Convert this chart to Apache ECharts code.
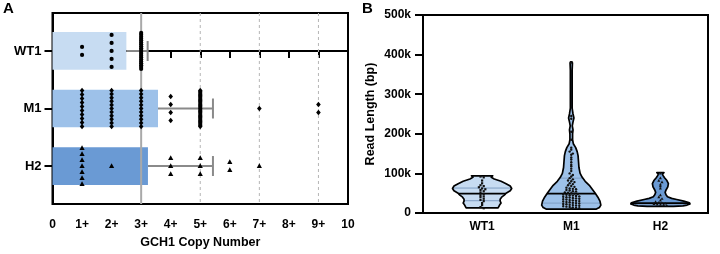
<!DOCTYPE html>
<html><head><meta charset="utf-8">
<script src="https://cdn.jsdelivr.net/npm/echarts@6/dist/echarts.min.js"></script>
<style>html,body{margin:0;padding:0;background:#fff}#c{width:720px;height:254px}</style>
</head><body><div id="c"></div>
<script>
// ---------- Panel A data ----------
const groupsA = ['WT1', 'M1', 'H2'];
const copyTickLabels = ['0','1+','2+','3+','4+','5+','6+','7+','8+','9+','10'];
const meanA = [2.5, 3.57, 3.23];
const sdA = [0.72, 1.86, 2.2];
const countsWT1 = {1: 2, 2: 5, 3: 20};
const countsM1 = {1: 10, 2: 11, 3: 11, 4: 4, 5: 30, 7: 1, 9: 2};
const countsH2 = {1: 7, 2: 1, 4: 3, 5: 3, 6: 2, 7: 1};
const refSolid = [3];
const refDashed = [5, 7, 9];

// ---------- Panel B data ----------
const groupsB = ['WT1', 'M1', 'H2'];
const readsWT1 = [92,90,82,75,70,68,65,62,60,58,55,52,48,45,42,40,36,33,30,25,20,15,12];
const readsM1 = [380,245,238,205,185,165,160,155,150,147,140,135,128,122,118,112,106,100,96,92,
  88,85,82,80,78,75,73,70,68,66,64,62,61,60,58,57,55,54,52,51,50,49,48,47,46,45,44,43,42,41,
  40,39,38,37,36,35,34,33,32,31,30,29,28,27,26,25,24,23,22,21,20,19,18,17,16,15,14,13,12,11];
const readsH2 = [100,88,82,78,72,68,62,45,40,36,32,28,26,25,24,23,22,21,20,19];
// violin density profiles: [read length (k), relative width]
const violinWT1 = [[94,0.36],[90,0.31],[86,0.41],[80,0.64],[74,0.81],[68,0.95],[62,1],[56,0.95],[50,0.81],[45,0.75],[40,0.66],[35,0.61],[30,0.61],[25,0.64],[20,0.59],[13,0.54]];
const violinM1 = [[382,0.02],[379,0.04],[360,0.03],[300,0.03],[265,0.03],[250,0.06],[240,0.09],[230,0.06],[220,0.035],[210,0.06],[200,0.045],[185,0.045],[175,0.07],[165,0.15],[155,0.2],[145,0.23],[130,0.245],[115,0.26],[100,0.3],[90,0.37],[80,0.47],[70,0.61],[60,0.71],[50,0.81],[40,0.9],[30,0.97],[20,1],[14,0.95],[10,0.85]];
const violinH2 = [[102,0.12],[99,0.076],[95,0.086],[89,0.14],[82,0.22],[74,0.27],[66,0.25],[58,0.19],[52,0.16],[46,0.19],[41,0.24],[37,0.38],[34,0.55],[30,0.79],[26,0.98],[23,1],[20,0.9],[18,0.76],[16.5,0.45]];
const medianB = [49, 49, 25];
const q1B = [31, 25, 21];
const q3B = [63, 88, 42];

// ---------- styles ----------
const FONT = 'Liberation Sans, Arial, Helvetica, sans-serif';
const barColors = ['#c7dcf2', '#9dc1e9', '#6a9ad4'];
const violinColors = ['#c7dcf2', '#9dc1e9', '#6a9ad4'];
const BAR_HALF = 0.328;     // in category units (panel A)
const VIOLIN_MAX = 0.332;   // max half-width in x units (panel B)

// build dot data for panel A (stacked columns)
const countsA = [countsWT1, countsM1, countsH2];
const dotsA = [];
countsA.forEach((cnt, gi) => {
  Object.keys(cnt).forEach(k => {
    const n = cnt[k];
    const sp = n > 1 ? Math.min(8, 36 / (n - 1)) : 0;
    for (let j = 0; j < n; j++) dotsA.push([+k, gi, (j - (n - 1) / 2) * sp]);
  });
});

// build beeswarm dot data for panel B
const readsB = [readsWT1, readsM1, readsH2];
const violinsB = [violinWT1, violinM1, violinH2];
const dotsB = [];
readsB.forEach((arr, gi) => {
  const bins = {};
  arr.forEach(v => { const b = Math.floor(v / 6); (bins[b] = bins[b] || []).push(v); });
  Object.keys(bins).forEach(b => {
    const list = bins[b], n = list.length;
    list.forEach((v, j) => dotsB.push([gi + 1 + (j - (n - 1) / 2) * (3.2 / 89), v * 1000, gi]));
  });
});

function widthAt(profile, v) {
  for (let i = 0; i < profile.length - 1; i++) {
    const a = profile[i], b = profile[i + 1];
    if (v <= a[0] && v >= b[0]) return a[1] + (b[1] - a[1]) * (a[0] - v) / (a[0] - b[0]);
  }
  return 0;
}

const chart = echarts.init(document.getElementById('c'), null, {renderer: 'canvas'});
const labelStyle = {color: '#000', fontFamily: FONT, fontWeight: 'bold', fontSize: 12};

const option = {
  animation: false,
  graphic: [
    {type: 'text', left: 3, top: 1, style: {text: 'A', font: 'bold 15px ' + FONT, fill: '#000'}},
    {type: 'text', left: 362, top: 1, style: {text: 'B', font: 'bold 15px ' + FONT, fill: '#000'}}
  ],
  grid: [
    {left: 52.5, right: 372, top: 13, bottom: 45, show: true, borderColor: '#000', borderWidth: 2, containLabel: false},
    {left: 423, right: 12, top: 15, bottom: 41, show: true, borderColor: '#000', borderWidth: 2, containLabel: false}
  ],
  xAxis: [
    {gridIndex: 0, type: 'value', min: 0, max: 10, interval: 1,
     axisLine: {lineStyle: {color: '#000', width: 2}},
     axisTick: {show: true, length: 7, lineStyle: {color: '#000', width: 2}},
     splitLine: {show: false},
     axisLabel: Object.assign({margin: 15, formatter: v => copyTickLabels[v] || ''}, labelStyle),
     name: 'GCH1 Copy Number', nameLocation: 'middle', nameGap: 32,
     nameTextStyle: {color: '#000', fontFamily: FONT, fontWeight: 'bold', fontSize: 12.5}},
    {gridIndex: 1, type: 'value', min: 0.337, max: 3.534,
     axisLine: {lineStyle: {color: '#000', width: 2}},
     axisTick: {show: false},
     splitLine: {show: false},
     axisLabel: Object.assign({margin: 8, customValues: [1, 2, 3], formatter: v => groupsB[Math.round(v) - 1] || ''}, labelStyle)}
  ],
  yAxis: [
    {gridIndex: 0, type: 'value', inverse: true, min: -0.66, max: 2.66,
     axisLine: {lineStyle: {color: '#000', width: 2}},
     axisTick: {show: true, length: 8, customValues: [0, 1, 2], lineStyle: {color: '#000', width: 2}},
     splitLine: {show: false},
     axisLabel: Object.assign({margin: 11, customValues: [0, 1, 2], formatter: v => groupsA[Math.round(v)] || ''}, labelStyle, {fontSize: 13})},
    {gridIndex: 1, type: 'value', min: 0, max: 500000, interval: 100000,
     axisLine: {lineStyle: {color: '#000', width: 2}},
     axisTick: {show: true, length: 8, lineStyle: {color: '#000', width: 2}},
     splitLine: {show: false},
     axisLabel: Object.assign({margin: 12, formatter: v => v === 0 ? '0' : (v / 1000) + 'k'}, labelStyle),
     name: 'Read Length (bp)', nameLocation: 'middle', nameGap: 46, nameRotate: 90,
     nameTextStyle: {color: '#000', fontFamily: FONT, fontWeight: 'bold', fontSize: 12.5}}
  ],
  series: [
    // bars
    {type: 'custom', xAxisIndex: 0, yAxisIndex: 0, z: 2,
     data: groupsA.map((g, i) => [meanA[i], i]),
     renderItem: (params, api) => {
       const i = api.value(1);
       const p0 = api.coord([0, i]), p1 = api.coord([api.value(0), i]);
       const h = api.size([0, BAR_HALF * 2])[1];
       return {type: 'rect', shape: {x: p0[0], y: p0[1] - h / 2, width: p1[0] - p0[0], height: h}, style: {fill: barColors[i]}};
     }},
    // reference lines
    {type: 'custom', xAxisIndex: 0, yAxisIndex: 0, z: 3,
     data: refSolid.map(v => [v, 0, 0]).concat(refDashed.map(v => [v, 0, 1])),
     renderItem: (params, api) => {
       const cs = params.coordSys;
       const x = api.coord([api.value(0), 0])[0];
       const dashed = api.value(2) === 1;
       return {type: 'line', shape: {x1: x, y1: cs.y, x2: x, y2: cs.y + cs.height},
         style: {stroke: dashed ? '#b5b5b5' : '#a9a9a9', lineWidth: dashed ? 1 : 2, lineDash: dashed ? [3, 3] : null}};
     }},
    // error bars
    {type: 'custom', xAxisIndex: 0, yAxisIndex: 0, z: 4,
     data: groupsA.map((g, i) => [meanA[i], i, sdA[i]]),
     renderItem: (params, api) => {
       const i = api.value(1);
       const a = api.coord([api.value(0), i]), b = api.coord([api.value(0) + api.value(2), i]);
       return {type: 'group', children: [
         {type: 'line', shape: {x1: a[0], y1: a[1], x2: b[0], y2: b[1]}, style: {stroke: '#8a8a8a', lineWidth: 2}},
         {type: 'line', shape: {x1: b[0], y1: b[1] - 10, x2: b[0], y2: b[1] + 10}, style: {stroke: '#8a8a8a', lineWidth: 2}}
       ]};
     }},
    // dots panel A
    {type: 'custom', xAxisIndex: 0, yAxisIndex: 0, z: 5,
     data: dotsA,
     renderItem: (params, api) => {
       const p = api.coord([api.value(0), api.value(1)]);
       const x = p[0], y = p[1] + api.value(2), g = api.value(1);
       if (g === 0) return {type: 'circle', shape: {cx: x, cy: y, r: 2.1}, style: {fill: '#000'}};
       if (g === 1) return {type: 'polygon', shape: {points: [[x, y - 2.7], [x + 2.3, y], [x, y + 2.7], [x - 2.3, y]]}, style: {fill: '#000'}};
       return {type: 'polygon', shape: {points: [[x, y - 2.8], [x + 2.6, y + 2], [x - 2.6, y + 2]]}, style: {fill: '#000'}};
     }},
    // violins
    {type: 'custom', xAxisIndex: 1, yAxisIndex: 1, z: 2,
     data: groupsB.map((g, i) => [i + 1, medianB[i] * 1000, i]),
     renderItem: (params, api) => {
       const i = api.value(2), c = i + 1;
       const prof = violinsB[i];
       const left = prof.map(d => api.coord([c - d[1] * VIOLIN_MAX, d[0] * 1000]));
       const right = prof.slice().reverse().map(d => api.coord([c + d[1] * VIOLIN_MAX, d[0] * 1000]));
       const hl = (v, color, w) => {
         const hw = widthAt(prof, v) * VIOLIN_MAX;
         const a = api.coord([c - hw, v * 1000]), b = api.coord([c + hw, v * 1000]);
         return {type: 'line', shape: {x1: a[0], y1: a[1], x2: b[0], y2: b[1]}, style: {stroke: color, lineWidth: w}};
       };
       return {type: 'group', children: [
         {type: 'polygon', shape: {points: left.concat(right)}, style: {fill: violinColors[i], stroke: 'none'}},
         hl(q1B[i], '#7f9ec4', 1), hl(q3B[i], '#7f9ec4', 1), hl(medianB[i], '#000', 1.6),
         {type: 'polygon', shape: {points: left.concat(right)}, style: {fill: 'none', stroke: '#000', lineWidth: 1.7, lineJoin: 'round'}}
       ]};
     }},
    // violin dots
    {type: 'custom', xAxisIndex: 1, yAxisIndex: 1, z: 3,
     data: dotsB,
     renderItem: (params, api) => {
       const p = api.coord([api.value(0), api.value(1)]);
       const x = p[0], y = p[1], g = api.value(2);
       if (g === 0) return {type: 'rect', shape: {x: x - 1.1, y: y - 1.1, width: 2.2, height: 2.2}, style: {fill: '#111'}};
       if (g === 1) return {type: 'circle', shape: {cx: x, cy: y, r: 1.2}, style: {fill: '#111'}};
       return {type: 'polygon', shape: {points: [[x, y - 1.6], [x + 1.5, y + 1.1], [x - 1.5, y + 1.1]]}, style: {fill: '#111'}};
     }}
  ]
};
chart.setOption(option);
</script></body></html>
